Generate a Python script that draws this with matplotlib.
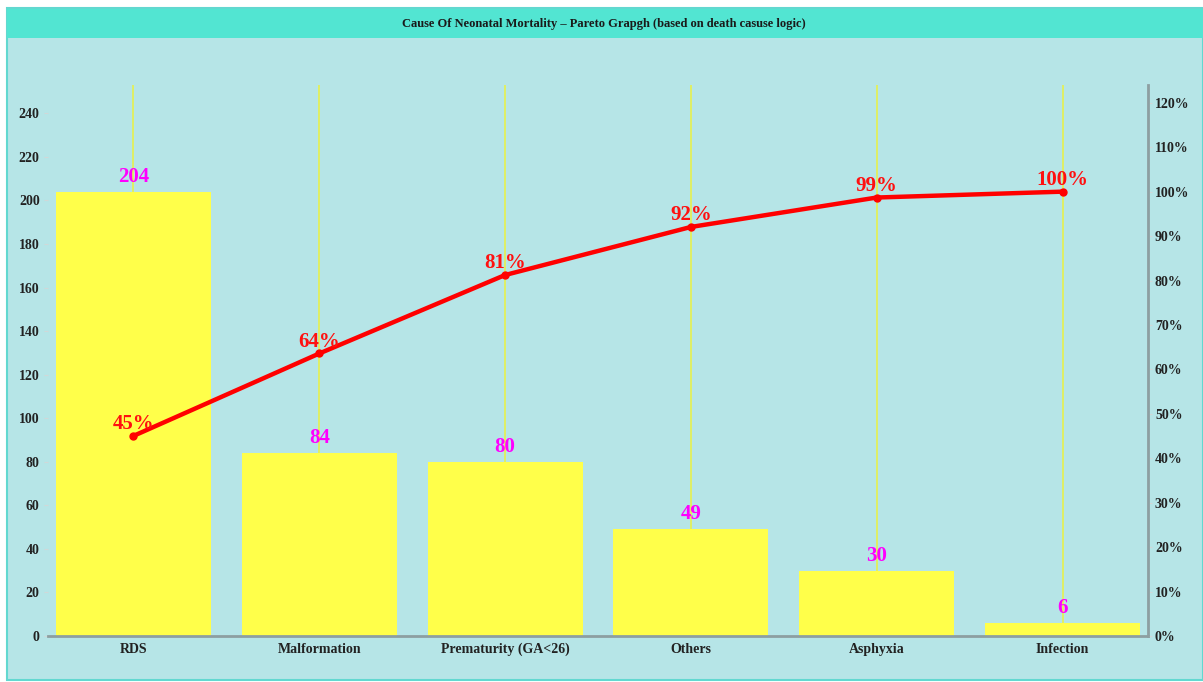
import matplotlib.pyplot as plt
from matplotlib.patches import Rectangle

causes = ["RDS", "Malformation", "Prematurity (GA<26)", "Others", "Asphyxia", "Infection"]
deaths = [204, 84, 80, 49, 30, 6]
left_ticks = [0, 20, 40, 60, 80, 100, 120, 140, 160, 180, 200, 220, 240]
right_ticks = [0, 10, 20, 30, 40, 50, 60, 70, 80, 90, 100, 110, 120]

total = sum(deaths)
cum_pct = []
running = 0
for d in deaths:
    running += d
    cum_pct.append(100.0 * running / total)

W, H = 1203, 682
fig = plt.figure(figsize=(W / 100, H / 100), dpi=100)
fig.patch.set_facecolor("white")

serif = ["Liberation Serif", "DejaVu Serif"]
bg = "#b6e5e7"

# panel background and title strip
fig.patches.append(Rectangle((7 / W, 2 / H), 1 - 7 / W, 672 / H, transform=fig.transFigure,
                             facecolor=bg, edgecolor="#62d8d0", linewidth=1.5, zorder=-2))
fig.patches.append(Rectangle((7 / W, (H - 38) / H), 1 - 7 / W, 29 / H, transform=fig.transFigure,
                             facecolor="#52e5d2", edgecolor="none", zorder=-1))
fig.text(604 / W, (H - 24) / H,
         "Cause Of Neonatal Mortality \u2013 Pareto Grapgh (based on death casuse logic)",
         ha="center", va="center", fontsize=9, fontweight="bold", family=serif, color="#1a1a1a")

ax = fig.add_axes([48 / W, 46 / H, 1100 / W, 551 / H])
ax.set_facecolor("none")
x = list(range(len(causes)))

for xi in x:
    ax.axvline(xi, color="#e3f05a", linewidth=1.3, zorder=1)
ax.bar(x, deaths, width=0.835, color="#ffff4a", zorder=2)
for xi, d in zip(x, deaths):
    ax.text(xi, d + 2.3, str(d), ha="center", va="bottom", color="#ff00ff",
            fontsize=15, fontweight="bold", family=serif, zorder=3)

ax.set_xlim(-0.46, 5.46)
ax.set_ylim(0, 253)
ax.set_yticks(left_ticks)
ax.set_xticks(x)
ax.set_xticklabels(causes)
for s in ["top", "left", "right"]:
    ax.spines[s].set_visible(False)
ax.spines["bottom"].set_color("#8d9fa1")
ax.spines["bottom"].set_linewidth(2)
ax.tick_params(axis="y", length=3, color="#d0d8d8", pad=3, labelcolor="#222222")
ax.tick_params(axis="x", length=0, pad=5, labelcolor="#222222")
for lab in ax.get_yticklabels() + ax.get_xticklabels():
    lab.set_family(serif)
    lab.set_fontweight("bold")
    lab.set_fontsize(10)

ax2 = ax.twinx()
ax2.set_ylim(0, 124)
ax2.set_yticks(right_ticks)
ax2.set_yticklabels([f"{t}%" for t in right_ticks])
for s in ["top", "left", "bottom"]:
    ax2.spines[s].set_visible(False)
ax2.spines["right"].set_color("#8d9fa1")
ax2.spines["right"].set_linewidth(2)
ax2.tick_params(axis="y", length=3, color="#d0d8d8", pad=2, labelcolor="#222222")
for lab in ax2.get_yticklabels():
    lab.set_family(serif)
    lab.set_fontweight("bold")
    lab.set_fontsize(10)

ax2.plot(x, cum_pct, color="#ff0000", linewidth=3.2, marker="o", markersize=5, zorder=5)
for xi, p in zip(x, cum_pct):
    ax2.text(xi, p + 0.4, f"{p:.0f}%", ha="center", va="bottom", color="#ff1010",
             fontsize=15, fontweight="bold", family=serif, zorder=6)

fig.savefig("out.png", dpi=100, facecolor=fig.get_facecolor())
